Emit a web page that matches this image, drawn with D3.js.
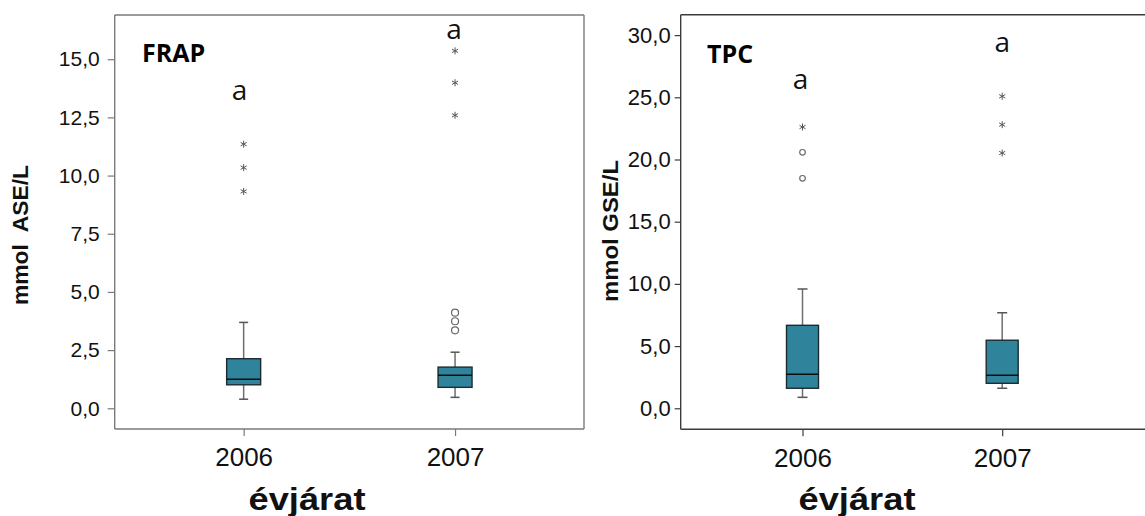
<!DOCTYPE html>
<html>
<head>
<meta charset="utf-8">
<script src="https://cdn.jsdelivr.net/npm/d3@7"></script>
<style>
  html, body { margin: 0; padding: 0; background: #fff; }
  svg { display: block; }
</style>
</head>
<body>
<svg id="chart" width="1145" height="516"></svg>
<script>
// Vintage years on the x axis
const years = ["2006", "2007"];

// FRAP (mmol ASE/L) box statistics per year
const frapLow    = [0.39, 0.47];
const frapQ1     = [1.01, 0.90];
const frapMedian = [1.25, 1.42];
const frapQ3     = [2.13, 1.77];
const frapHigh   = [3.69, 2.41];
const frapOutliers = [[], [3.35, 3.74, 4.11]];
const frapExtremes = [[9.32, 10.34, 11.35], [12.59, 13.99, 15.36]];
const frapLetters  = ["a", "a"];
const frapLetterAt = [13.24, 15.85];
const frapTicks = [0, 2.5, 5, 7.5, 10, 12.5, 15];

// TPC (mmol GSE/L) box statistics per year
const tpcLow    = [0.88, 1.61];
const tpcQ1     = [1.61, 2.01];
const tpcMedian = [2.73, 2.65];
const tpcQ3     = [6.67, 5.47];
const tpcHigh   = [9.59, 7.68];
const tpcOutliers = [[18.49, 20.58], []];
const tpcExtremes = [[22.61], [20.52, 22.80, 25.08]];
const tpcLetters  = ["a", "a"];
const tpcLetterAt = [25.64, 28.67];
const tpcTicks = [0, 5, 10, 15, 20, 25, 30];

const huLocale = d3.formatLocale({ decimal: ",", thousands: " ", grouping: [3], currency: ["", " Ft"] });
const fmt = huLocale.format(".1f");

const svg = d3.select("#chart");
const BOX_FILL = "#2f849c";

function drawPanel(cfg) {
  const g = svg.append("g");
  const x = d3.scalePoint().domain(years).range([cfg.left, cfg.right]).padding(0.61);
  const y = d3.scaleLinear().domain(cfg.domain).range([cfg.bottom, cfg.top]);

  // frame
  const frame = g.append("g").attr("fill", "none").attr("stroke", cfg.frameColor).attr("stroke-width", 1.4);
  frame.append("line").attr("x1", cfg.left).attr("x2", cfg.frameEnd).attr("y1", cfg.top).attr("y2", cfg.top);
  frame.append("line").attr("x1", cfg.left).attr("x2", cfg.frameEnd).attr("y1", cfg.bottom).attr("y2", cfg.bottom);
  frame.append("line").attr("x1", cfg.left).attr("x2", cfg.left).attr("y1", cfg.top).attr("y2", cfg.bottom);
  if (cfg.rightBorder) {
    frame.append("line").attr("x1", cfg.right).attr("x2", cfg.right).attr("y1", cfg.top).attr("y2", cfg.bottom);
  }

  // y axis
  const yAxis = g.append("g")
    .attr("transform", `translate(${cfg.left},0)`)
    .call(d3.axisLeft(y).tickValues(cfg.ticks).tickFormat(fmt).tickSize(cfg.tickLen).tickPadding(cfg.labelGap));
  yAxis.select(".domain").remove();
  yAxis.selectAll(".tick line").attr("stroke", cfg.frameColor).attr("stroke-width", 1.2);
  yAxis.selectAll(".tick text")
    .attr("font-family", "Liberation Sans, Arial, sans-serif")
    .attr("font-size", cfg.tickFont).attr("fill", "#111");

  // x axis
  const xAxis = g.append("g")
    .attr("transform", `translate(0,${cfg.bottom})`)
    .call(d3.axisBottom(x).tickSize(7).tickPadding(12));
  xAxis.select(".domain").remove();
  xAxis.selectAll(".tick line").attr("stroke", cfg.frameColor).attr("stroke-width", 1.2);
  xAxis.selectAll(".tick text")
    .attr("font-family", "Liberation Sans, Arial, sans-serif")
    .attr("font-size", 26).attr("fill", "#111");

  // whiskers
  const boxes = g.selectAll(".box").data(years).join("g").attr("class", "box");
  boxes.append("line")
    .attr("x1", d => x(d)).attr("x2", d => x(d))
    .attr("y1", (d, i) => y(cfg.high[i])).attr("y2", (d, i) => y(cfg.low[i]))
    .attr("stroke", "#6e6e6e").attr("stroke-width", 1.5);
  [cfg.high, cfg.low].forEach(arr => {
    boxes.append("line")
      .attr("x1", d => x(d) - cfg.capW / 2).attr("x2", d => x(d) + cfg.capW / 2)
      .attr("y1", (d, i) => y(arr[i])).attr("y2", (d, i) => y(arr[i]))
      .attr("stroke", "#555").attr("stroke-width", 1.5);
  });
  // boxes
  boxes.append("rect")
    .attr("x", d => x(d) - cfg.boxW / 2).attr("width", cfg.boxW)
    .attr("y", (d, i) => y(cfg.q3[i]))
    .attr("height", (d, i) => y(cfg.q1[i]) - y(cfg.q3[i]))
    .attr("fill", BOX_FILL).attr("stroke", "#1d2b30").attr("stroke-width", 1.4);
  boxes.append("line")
    .attr("x1", d => x(d) - cfg.boxW / 2).attr("x2", d => x(d) + cfg.boxW / 2)
    .attr("y1", (d, i) => y(cfg.median[i])).attr("y2", (d, i) => y(cfg.median[i]))
    .attr("stroke", "#0c0c0c").attr("stroke-width", 1.5);

  // outliers (circles) and extreme values (stars)
  years.forEach((yr, i) => {
    g.selectAll(null).data(cfg.outliers[i]).join("circle")
      .attr("cx", x(yr)).attr("cy", v => y(v)).attr("r", cfg.circleR)
      .attr("fill", "none").attr("stroke", "#6a6a6a").attr("stroke-width", 1.2);
    g.selectAll(null).data(cfg.extremes[i]).join("path")
      .attr("transform", v => `translate(${x(yr)},${y(v)})`)
      .attr("d", d3.symbol(d3.symbolAsterisk, 34)())
      .attr("fill", "none").attr("stroke", "#555").attr("stroke-width", 1);
    g.append("text")
      .attr("x", x(yr) + cfg.letterDx[i]).attr("y", y(cfg.letterAt[i]))
      .attr("text-anchor", "middle")
      .attr("font-family", "Open Sans, sans-serif").attr("font-size", 28)
      .attr("fill", "#111").text(cfg.letters[i]);
  });

  // panel title
  g.append("text")
    .attr("x", cfg.titleX).attr("y", cfg.titleY)
    .attr("font-family", "Open Sans, sans-serif").attr("font-weight", "bold")
    .attr("font-size", 25).attr("fill", "#000").text(cfg.title);

  // axis titles
  g.append("text")
    .attr("transform", `translate(${cfg.yTitleX},${cfg.yTitleY}) rotate(-90)`)
    .attr("text-anchor", "middle").attr("xml:space", "preserve")
    .attr("textLength", cfg.yTitleLen).attr("lengthAdjust", "spacingAndGlyphs")
    .attr("font-family", "Liberation Sans, Arial, sans-serif").attr("font-weight", "bold")
    .attr("font-size", 22).attr("fill", "#111").text(cfg.yTitle);
  g.append("text")
    .attr("x", cfg.xTitleX).attr("y", 510)
    .attr("text-anchor", "middle")
    .attr("textLength", 117).attr("lengthAdjust", "spacingAndGlyphs")
    .attr("font-family", "Liberation Sans, Arial, sans-serif").attr("font-weight", "bold")
    .attr("font-size", 31).attr("fill", "#111").text("évjárat");
}

drawPanel({
  left: 114.7, right: 584, frameEnd: 584, rightBorder: true, top: 15, bottom: 429,
  domain: [-0.89, 16.9], ticks: frapTicks, tickLen: 7, labelGap: 8, tickFont: 21,
  frameColor: "#7a7a7a",
  low: frapLow, q1: frapQ1, median: frapMedian, q3: frapQ3, high: frapHigh,
  outliers: frapOutliers, extremes: frapExtremes,
  letters: frapLetters, letterAt: frapLetterAt, letterDx: [-4, -1],
  boxW: 34, capW: 9, circleR: 3.5,
  title: "FRAP", titleX: 142, titleY: 62,
  yTitle: "mmol  ASE/L", yTitleLen: 140, yTitleX: 28, yTitleY: 235, xTitleX: 307
});

drawPanel({
  left: 680.7, right: 1124, frameEnd: 1145, rightBorder: false, top: 14.7, bottom: 429.3,
  domain: [-1.69, 31.64], ticks: tpcTicks, tickLen: 6, labelGap: 4, tickFont: 22,
  frameColor: "#3c3c3c",
  low: tpcLow, q1: tpcQ1, median: tpcMedian, q3: tpcQ3, high: tpcHigh,
  outliers: tpcOutliers, extremes: tpcExtremes,
  letters: tpcLetters, letterAt: tpcLetterAt, letterDx: [-2, 0],
  boxW: 32, capW: 10, circleR: 2.8,
  title: "TPC", titleX: 707, titleY: 63,
  yTitle: "mmol GSE/L", yTitleLen: 142, yTitleX: 618, yTitleY: 231, xTitleX: 857
});
</script>
</body>
</html>
